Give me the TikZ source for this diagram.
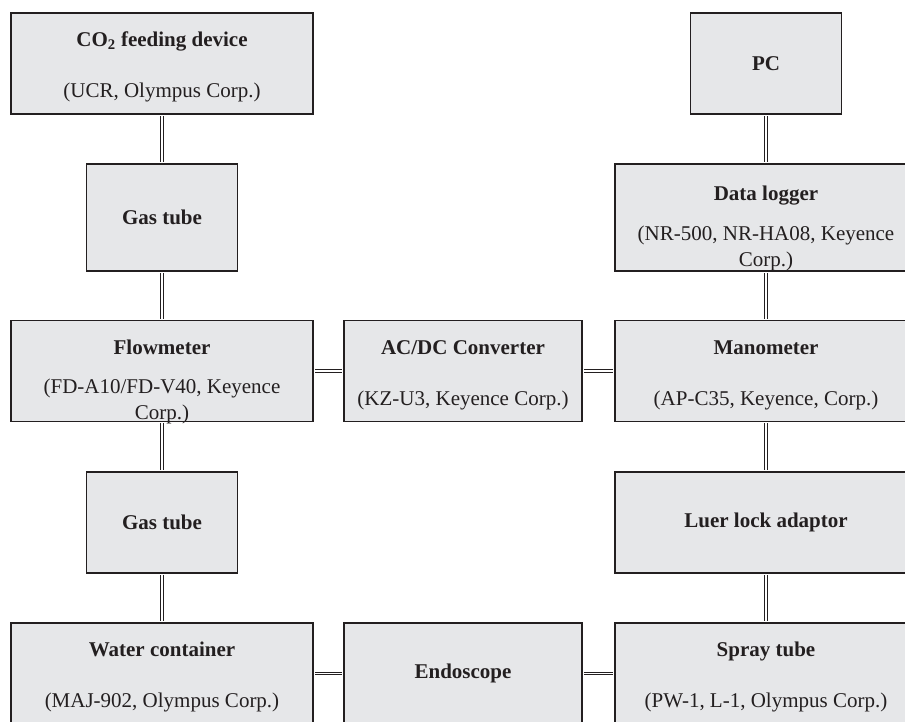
\documentclass[tikz,border=0pt]{standalone}
\usepackage{fontspec}
\setmainfont{Liberation Serif}
\definecolor{boxfill}{RGB}{230,231,233}
\definecolor{boxline}{RGB}{35,31,32}
\tikzset{
  unit/.style={rectangle, draw=boxline, line width=1.9pt, fill=boxfill, text=boxline,
    align=center, inner xsep=2pt, inner ysep=0pt, font=\fontsize{21}{26}\selectfont,
    minimum height=101pt},
  wide/.style={unit, minimum width=302pt},
  narrow/.style={unit, minimum width=151pt},
  middle/.style={unit, minimum width=238pt},
  link/.style={draw=boxline, line width=0.9pt, double=white, double distance=1.6pt,
    shorten >=0.9pt, shorten <=0.9pt}
}
\begin{document}
\begin{tikzpicture}[x=1pt, y=-1pt]
\useasboundingbox (0,0) rectangle (905,722);
\clip (0,0) rectangle (905,722);
% gas line
\node[wide] (co2) at (162,63.5) {\textbf{\rule{0pt}{22pt}CO\textsubscript{2} feeding device}\\[25pt](UCR, Olympus Corp.)};
\node[narrow, minimum height=107pt] (gas1) at (162,217.5) {\textbf{Gas tube}};
\node[wide] (flow) at (162,371) {\textbf{\rule{0pt}{31pt}Flowmeter}\\[13pt](FD-A10/FD-V40, Keyence\\\smash{Corp.)}};
\node[narrow] (gas2) at (162,522.5) {\textbf{Gas tube}};
\node[wide] (water) at (162,673.5) {\textbf{\rule{0pt}{22pt}Water container}\\[25pt](MAJ-902, Olympus Corp.)};
% middle
\node[middle] (acdc) at (463,371) {\textbf{\rule{0pt}{22pt}AC/DC Converter}\\[25pt](KZ-U3, Keyence Corp.)};
\node[middle] (endo) at (463,673.5) {\textbf{Endoscope}};
% measuring line
\node[narrow] (pc) at (766,63.5) {\textbf{PC}};
\node[wide, minimum height=107pt] (logger) at (766,217.5) {\textbf{\rule{0pt}{31pt}Data logger}\\[14pt](NR-500, NR-HA08, Keyence\\\smash{Corp.)}};
\node[wide] (mano) at (766,371) {\textbf{\rule{0pt}{22pt}Manometer}\\[25pt](AP-C35, Keyence, Corp.)};
\node[wide] (luer) at (766,522.5) {\textbf{Luer lock adaptor}};
\node[wide] (spray) at (766,673.5) {\textbf{\rule{0pt}{22pt}Spray tube}\\[25pt](PW-1, L-1, Olympus Corp.)};
% tubes and cables
\draw[link] (co2) -- (gas1);
\draw[link] (gas1) -- (flow);
\draw[link] (flow) -- (gas2);
\draw[link] (gas2) -- (water);
\draw[link] (pc) -- (logger);
\draw[link] (logger) -- (mano);
\draw[link] (mano) -- (luer);
\draw[link] (luer) -- (spray);
\draw[link] (flow) -- (acdc);
\draw[link] (acdc) -- (mano);
\draw[link] (water) -- (endo);
\draw[link] (endo) -- (spray);
\end{tikzpicture}
\end{document}
